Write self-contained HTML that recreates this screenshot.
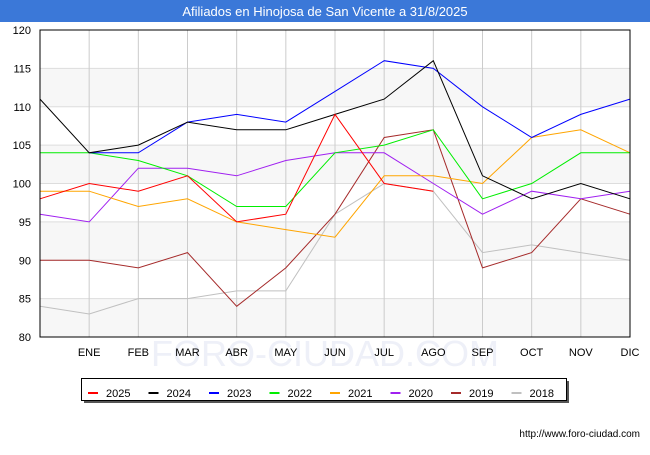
<!DOCTYPE html>
<html><head><meta charset="utf-8"><style>
body{margin:0;width:650px;height:450px;background:#fff;font-family:"Liberation Sans",sans-serif;overflow:hidden}
</style></head><body>
<svg width="650" height="450" id="svg" xmlns="http://www.w3.org/2000/svg" font-family="Liberation Sans, sans-serif">
<text x="325" y="366" text-anchor="middle" fill="#eef0f8" font-size="36">FORO-CIUDAD.COM</text>
<rect x="0" y="0" width="650" height="22" fill="#3b78d8"/>
<text x="325" y="16" text-anchor="middle" fill="#fff" font-size="13">Afiliados en Hinojosa de San Vicente a 31/8/2025</text>
<g id="grid"></g>
<g id="lines"></g>
<rect x="40" y="30" width="590" height="307" fill="none" stroke="#000" stroke-width="1"/>
<g id="legend"></g>
<text x="640" y="437" text-anchor="end" font-size="10" fill="#000">http://www.foro-ciudad.com</text>
</svg>
<script>
const months=["","ENE","FEB","MAR","ABR","MAY","JUN","JUL","AGO","SEP","OCT","NOV","DIC"];
const yTicks=[80,85,90,95,100,105,110,115,120];
const seriesNames=["2025","2024","2023","2022","2021","2020","2019","2018"];
const seriesColors=["#ff0000","#000000","#0000ff","#00ee00","#ffa500","#a020f0","#a52a2a","#c0c0c0"];
const s2025=[98,100,99,101,95,96,109,100,99];
const s2024=[111,104,105,108,107,107,109,111,116,101,98,100,98];
const s2023=[null,104,104,108,109,108,112,116,115,110,106,109,111];
const s2022=[104,104,103,101,97,97,104,105,107,98,100,104,104];
const s2021=[99,99,97,98,95,94,93,101,101,100,106,107,104];
const s2020=[96,95,102,102,101,103,104,104,100,96,99,98,99];
const s2019=[90,90,89,91,84,89,96,106,107,89,91,98,96];
const s2018=[84,83,85,85,86,86,96,100,99,91,92,91,90];
const allSeries=[s2025,s2024,s2023,s2022,s2021,s2020,s2019,s2018];
const NS="http://www.w3.org/2000/svg";
const X=i=>40+i*(590/12);
const Y=v=>337-(v-80)*(307/40);
const grid=document.getElementById('grid');
function mk(tag,attrs,parent){const e=document.createElementNS(NS,tag);for(const k in attrs)e.setAttribute(k,attrs[k]);parent.appendChild(e);return e;}
for(let k=0;k<yTicks.length-1;k++){
  if(k%2===0){const b=mk('rect',{x:40,y:Y(yTicks[k+1]),width:590,height:Y(yTicks[k])-Y(yTicks[k+1]),fill:'#f7f7f7'},grid);
  
  }
}
yTicks.forEach(v=>{
  const l=mk('line',{x1:40,x2:630,y1:Y(v),y2:Y(v),stroke:'#dddddd'},grid);
  
  
  const t=mk('text',{x:31,y:Y(v)+4,'text-anchor':'end','font-size':11,fill:'#000'},grid);
  t.textContent=v;
  
  
});
months.forEach((m,i)=>{
  if(i===0)return;
  const l=mk('line',{x1:X(i),x2:X(i),y1:30,y2:337,stroke:'#cccccc'},grid);
  
  
  const t=mk('text',{x:X(i),y:356,'text-anchor':'middle','font-size':11,fill:'#000'},grid);
  t.textContent=m;
  
  
});
const lines=document.getElementById('lines');
for(let s=allSeries.length-1;s>=0;s--){
  const pts=[];allSeries[s].forEach((v,i)=>{if(v!==null)pts.push(X(i).toFixed(1)+','+Y(v).toFixed(1));});
  const p=mk('polyline',{points:pts.join(' '),fill:'none',stroke:seriesColors[s],'stroke-width':1},lines);
  
  
}
const lg=document.getElementById('legend');
const sh=mk('rect',{x:84,y:381,width:485,height:22,fill:'#555'},lg);


const box=mk('rect',{x:81.5,y:378.5,width:485,height:22,fill:'#fff',stroke:'#000'},lg);


seriesNames.forEach((n,k)=>{
  const x0=88+k*60.5;
  const l=mk('line',{x1:x0,x2:x0+10,y1:393,y2:393,stroke:seriesColors[k],'stroke-width':2},lg);
  
  
  const t=mk('text',{x:x0+18,y:397,'font-size':11,fill:'#000'},lg);
  t.textContent=n;
  
  
});
</script>
</body></html>
